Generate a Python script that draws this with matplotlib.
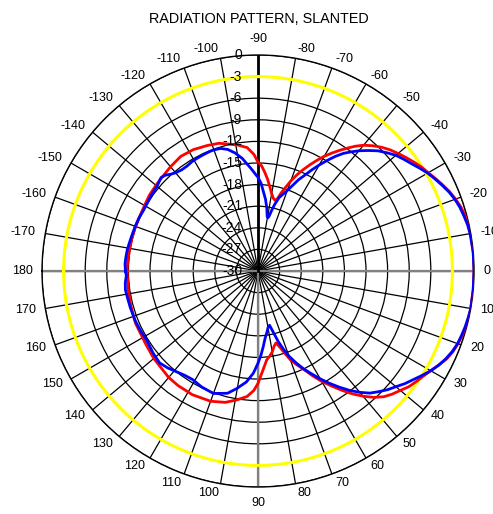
import numpy as np
import matplotlib
matplotlib.use("Agg")
import matplotlib.pyplot as plt
from matplotlib.transforms import ScaledTranslation

plt.rcParams['font.family'] = ['Liberation Sans', 'DejaVu Sans']

# Measured pattern, slanted polarisation: angle (deg) and relative level (dB)
red_deg = [-180, -175, -170, -165, -160, -155, -150, -145, -140, -137, -130, -124,
           -118, -112, -107, -103, -99, -95, -92, -90, -88, -86, -84, -82, -80,
           -78, -76.5, -75, -73.5, -72, -70, -68, -66, -64, -62, -60, -58, -56,
           -54, -52, -50, -47.5, -45, -42.5, -40, -37.5, -35, -32.5, -30, -27.5,
           -25, -22.5, -20, -17.5, -15, -12.5, -10, -5, 0, 5, 10, 12.5, 15, 17.5,
           20, 22.5, 25, 27.5, 30, 32.5, 35, 37.5, 40, 42.5, 45, 47.5, 50, 52.5,
           55, 57.5, 60, 62.5, 65, 67.5, 70, 72, 74, 76, 78, 80, 82, 84.4, 87, 90,
           92, 95, 99.4, 104, 110, 118, 125, 130, 140, 147, 157, 165, 172, 180]
red_db = [-11.8, -11.85, -11.9, -11.9, -11.9, -11.9, -11.8, -11.6, -11.5, -11.4, -11.1, -10.8,
          -10.9, -11.2, -11.45, -11.9, -12.3, -12.8, -13.8, -14.9, -15.4, -16.3, -17.2, -18.2, -19.1,
          -19.7, -19.9, -19.6, -18.7, -17.9, -16.7, -15.6, -14.6, -13.6, -12.6, -11.6, -10.7, -9.8,
          -8.9, -8.0, -7.2, -6.4, -5.7, -5.1, -4.6, -4.1, -3.6, -3.1, -2.7, -2.2,
          -1.7, -1.2, -0.8, -0.45, -0.2, -0.05, 0.0, 0.0, 0.0, 0.0, 0.0, 0.0, -0.1, -0.25,
          -0.45, -0.7, -1.1, -1.7, -2.3, -2.8, -3.2, -3.6, -4.2, -4.7, -5.3, -6.2, -7.3, -8.5,
          -9.8, -11.1, -12.3, -13.6, -14.9, -15.9, -16.9, -18.0, -19.0, -19.7, -19.3, -18.6, -18.1, -17.6, -16.3, -14.4,
          -13.4, -12.5, -11.85, -11.2, -10.75, -10.55, -10.6, -10.7, -11.1, -11.4, -11.5, -11.7, -11.8, -11.8]

blue_deg = [-180, -177, -174, -171, -168, -164, -160, -156, -152, -148, -145, -142,
            -140, -138, -136, -134, -132, -130, -127, -124, -121, -118, -115, -112,
            -110, -107, -104, -101, -98, -96, -94, -92, -90, -88, -86, -84, -82,
            -80.5, -79.5, -78.5, -77.5, -76, -74, -72, -70, -68, -66, -64, -62, -60,
            -58, -56, -54, -52, -50, -47.5, -45, -42.5, -40, -37.5, -35, -32.5, -30,
            -27.5, -25, -22.5, -20, -17.5, -15, -12.5, -10, -5, 0, 5, 10, 12.5, 15,
            17.5, 20, 22.5, 25, 27.5, 30, 32.5, 35, 37.5, 40, 42.5, 45, 47.5, 50,
            52.5, 55, 57.5, 60, 62.5, 65, 67.5, 70, 72, 74, 76, 78, 80, 82,
            84, 86, 88, 90, 92.6, 96, 100.3, 104, 110, 116, 121, 125, 129, 133,
            137, 142, 148, 153, 158, 164, 168, 172, 175, 178, 180]
blue_db = [-11.6, -11.5, -11.55, -11.6, -11.7, -11.8, -11.85, -11.9, -12.0, -11.95, -11.85, -11.75,
           -11.7, -11.5, -11.3, -11.5, -11.9, -12.2, -12.4, -12.4, -12.25, -12.2, -12.15, -12.1,
           -12.1, -12.2, -12.6, -13.3, -14.2, -15.0, -15.7, -16.4, -17.0, -17.8, -19.0, -20.0, -21.2,
           -22.3, -22.5, -22.2, -21.5, -20.5, -19.4, -18.8, -18.1, -17.2, -16.1, -15.2, -14.1, -13.0,
           -11.9, -10.8, -9.8, -9.0, -8.2, -7.3, -6.4, -5.7, -5.0, -4.5, -4.0, -3.4, -2.8,
           -2.3, -1.8, -1.3, -0.9, -0.6, -0.4, -0.2, -0.1, 0.0, 0.0, 0.0, 0.0, -0.1, -0.2,
           -0.35, -0.5, -0.8, -1.2, -1.7, -2.3, -3.0, -3.7, -4.3, -5.0, -5.6, -6.3, -7.0, -8.0,
           -9.1, -10.3, -11.5, -12.7, -13.9, -15.0, -16.2, -17.4, -18.6, -19.8, -21.2, -22.3, -22.0, -21.3,
           -20.6, -19.5, -18.3, -17.2, -15.8, -14.5, -13.4, -12.5, -11.9, -12.1, -12.4, -12.3, -12.0, -11.6,
           -11.3, -11.5, -11.8, -11.7, -11.6, -11.55, -11.5, -11.4, -11.5, -11.7, -11.6]

ring_db = [-30, -27, -24, -21, -18, -15, -12, -9, -6, -3, 0]
spoke_deg = list(range(-170, 181, 10))
spoke_labels = [str(a) for a in spoke_deg]
ref_level_db = -3

DPI = 100
fig = plt.figure(figsize=(4.93, 5.14), dpi=DPI)
ax = fig.add_axes([0.0852, 0.0525, 0.8763, 0.8405], projection='polar')
ax.set_theta_zero_location('E')
ax.set_theta_direction(-1)

ax.set_xticks(np.deg2rad(spoke_deg))
ax.set_xticklabels([])
ax.set_thetamin(-180)
ax.set_thetamax(180)
ax.set_rlim(-30, 0)
ax.set_yticks(ring_db)
ax.set_yticklabels([])
ax.grid(True, color='black', lw=0.9)
ax.spines['polar'].set_linewidth(1.0)
ax.spines['polar'].set_color('black')

# main axis lines
ax.axvline(np.deg2rad(0), color='#808080', lw=1.6, zorder=2)
ax.axvline(np.deg2rad(180), color='#808080', lw=1.6, zorder=2)
ax.axvline(np.deg2rad(90), color='#808080', lw=1.6, zorder=2)
ax.axvline(np.deg2rad(-90), color='black', lw=2.0, zorder=2)

# -3 dB reference circle
circ = np.linspace(-np.pi, np.pi, 721)
ax.plot(circ, np.full_like(circ, ref_level_db), color='#ffff00', lw=2.2, zorder=3)

ax.plot(np.deg2rad(red_deg), red_db, color='#ff0000', lw=2.0, zorder=4)
ax.plot(np.deg2rad(blue_deg), blue_db, color='#0000ff', lw=2.0, zorder=5)

# ring level labels along the upper vertical axis
shift = ScaledTranslation(-16 / DPI, 0, fig.dpi_scale_trans)
for db in ring_db:
    ax.text(np.deg2rad(-90), db, str(db), transform=ax.transData + shift,
            ha='right', va='center', fontsize=10, zorder=6)

# angle labels just outside the rim
gap_px = 9.5
for ang, lab in zip(spoke_deg, spoke_labels):
    a = np.deg2rad(ang)
    ux, uy = np.cos(a), -np.sin(a)
    if abs(ux) < 0.01:
        ha = 'center'
        va = 'bottom' if uy > 0 else 'top'
    else:
        ha = 'left' if ux > 0 else 'right'
        va = 'center'
    off = ScaledTranslation(ux * gap_px / DPI, uy * gap_px / DPI, fig.dpi_scale_trans)
    ax.text(a, 0, lab, ha=ha, va=va, fontsize=9, clip_on=False,
            transform=ax.transData + off)

fig.text(0.526, 0.963, 'RADIATION PATTERN, SLANTED', ha='center', va='center',
         fontsize=10.4)

fig.savefig('out.png', dpi=DPI)
